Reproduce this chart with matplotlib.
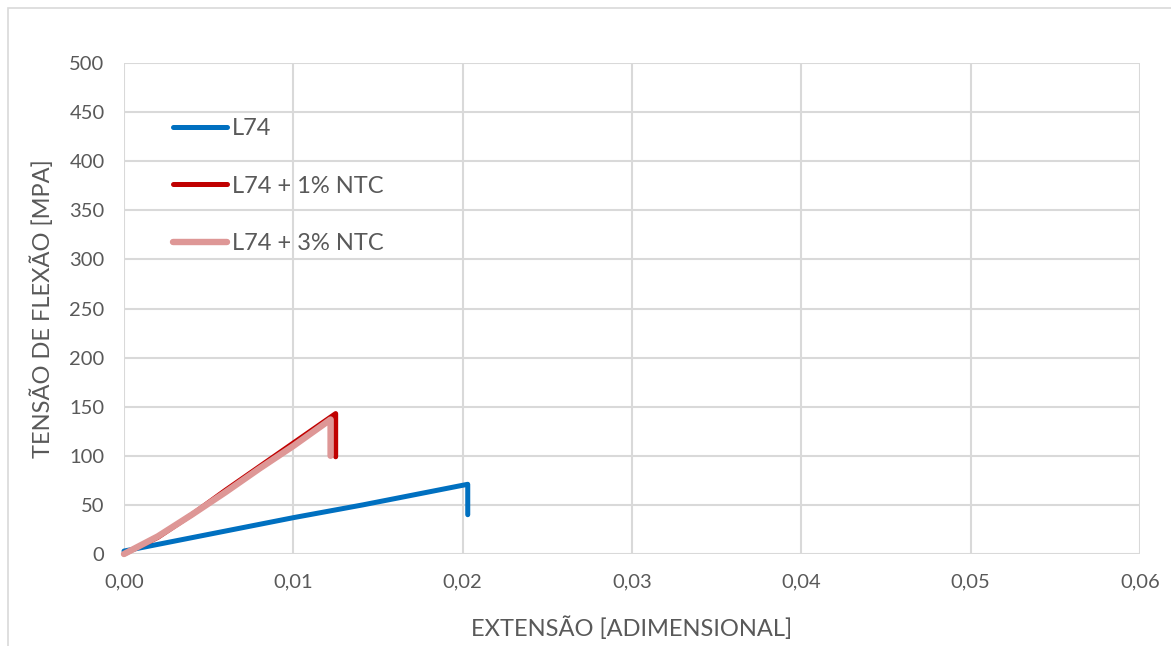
import matplotlib
matplotlib.use("Agg")
import matplotlib.pyplot as plt
from matplotlib.patches import Rectangle
from matplotlib.ticker import MultipleLocator, FuncFormatter

# Strain (dimensionless) and flexural stress (MPa) for each laminate
strain_l74 = [0.0, 0.005, 0.010, 0.0141, 0.0203, 0.0203]
stress_l74 = [3, 20, 37, 50, 71, 40]

strain_1ntc = [0.0, 0.002, 0.004, 0.006, 0.008, 0.010, 0.0125, 0.0125]
stress_1ntc = [0, 17, 40, 65, 89, 113, 143, 99]

strain_3ntc = [0.0, 0.002, 0.004, 0.006, 0.008, 0.010, 0.0122, 0.0122]
stress_3ntc = [0, 18, 40, 63, 87, 110, 137, 100]

labels = ["L74", "L74 + 1% NTC", "L74 + 3% NTC"]
colors = ["#0070c0", "#c00000", "#de9796"]

plt.rcParams["font.family"] = ["Lato", "DejaVu Sans"]
text_gray = "#595959"
grid_gray = "#d9d9d9"

fig = plt.figure(figsize=(11.71, 6.46), dpi=100)
fig.patch.set_facecolor("white")
fig.patches.append(Rectangle((8 / 1171, -0.1), 1.2, 1.1 - 8 / 646,
                             transform=fig.transFigure, fill=False,
                             edgecolor=grid_gray, linewidth=1.2))

ax = fig.add_axes([124 / 1171, 1 - 554 / 646, (1140 - 124) / 1171, (554 - 63) / 646])
ax.set_xlim(0, 0.06)
ax.set_ylim(0, 500)
ax.xaxis.set_major_locator(MultipleLocator(0.01))
ax.yaxis.set_major_locator(MultipleLocator(50))
ax.xaxis.set_major_formatter(FuncFormatter(lambda v, p: f"{v:.2f}".replace(".", ",")))
ax.grid(True, color=grid_gray, linewidth=1.5)
ax.set_axisbelow(True)
for s in ax.spines.values():
    s.set_visible(False)
ax.tick_params(length=0, labelsize=14.5, labelcolor=text_gray, pad=14)

line_kw = dict(solid_capstyle="round", solid_joinstyle="round", clip_on=False)
ax.plot(strain_l74, stress_l74, color=colors[0], lw=3.6, label=labels[0], **line_kw)
ax.plot(strain_1ntc, stress_1ntc, color=colors[1], lw=3.6, label=labels[1], **line_kw)
ax.plot(strain_3ntc, stress_3ntc, color=colors[2], lw=4.6, label=labels[2], **line_kw)

ax.set_xlabel("EXTENSÃO [ADIMENSIONAL]", fontsize=17, color=text_gray, labelpad=19)
ax.set_ylabel("TENSÃO DE FLEXÃO [MPA]", fontsize=17, color=text_gray, labelpad=11)

leg = ax.legend(loc="upper left", bbox_to_anchor=(0.039, 0.907), frameon=False,
                fontsize=17, labelcolor=text_gray, handlelength=2.3,
                handletextpad=0.2, labelspacing=1.55, borderaxespad=0)

fig.savefig("out.png", dpi=100, facecolor="white")
